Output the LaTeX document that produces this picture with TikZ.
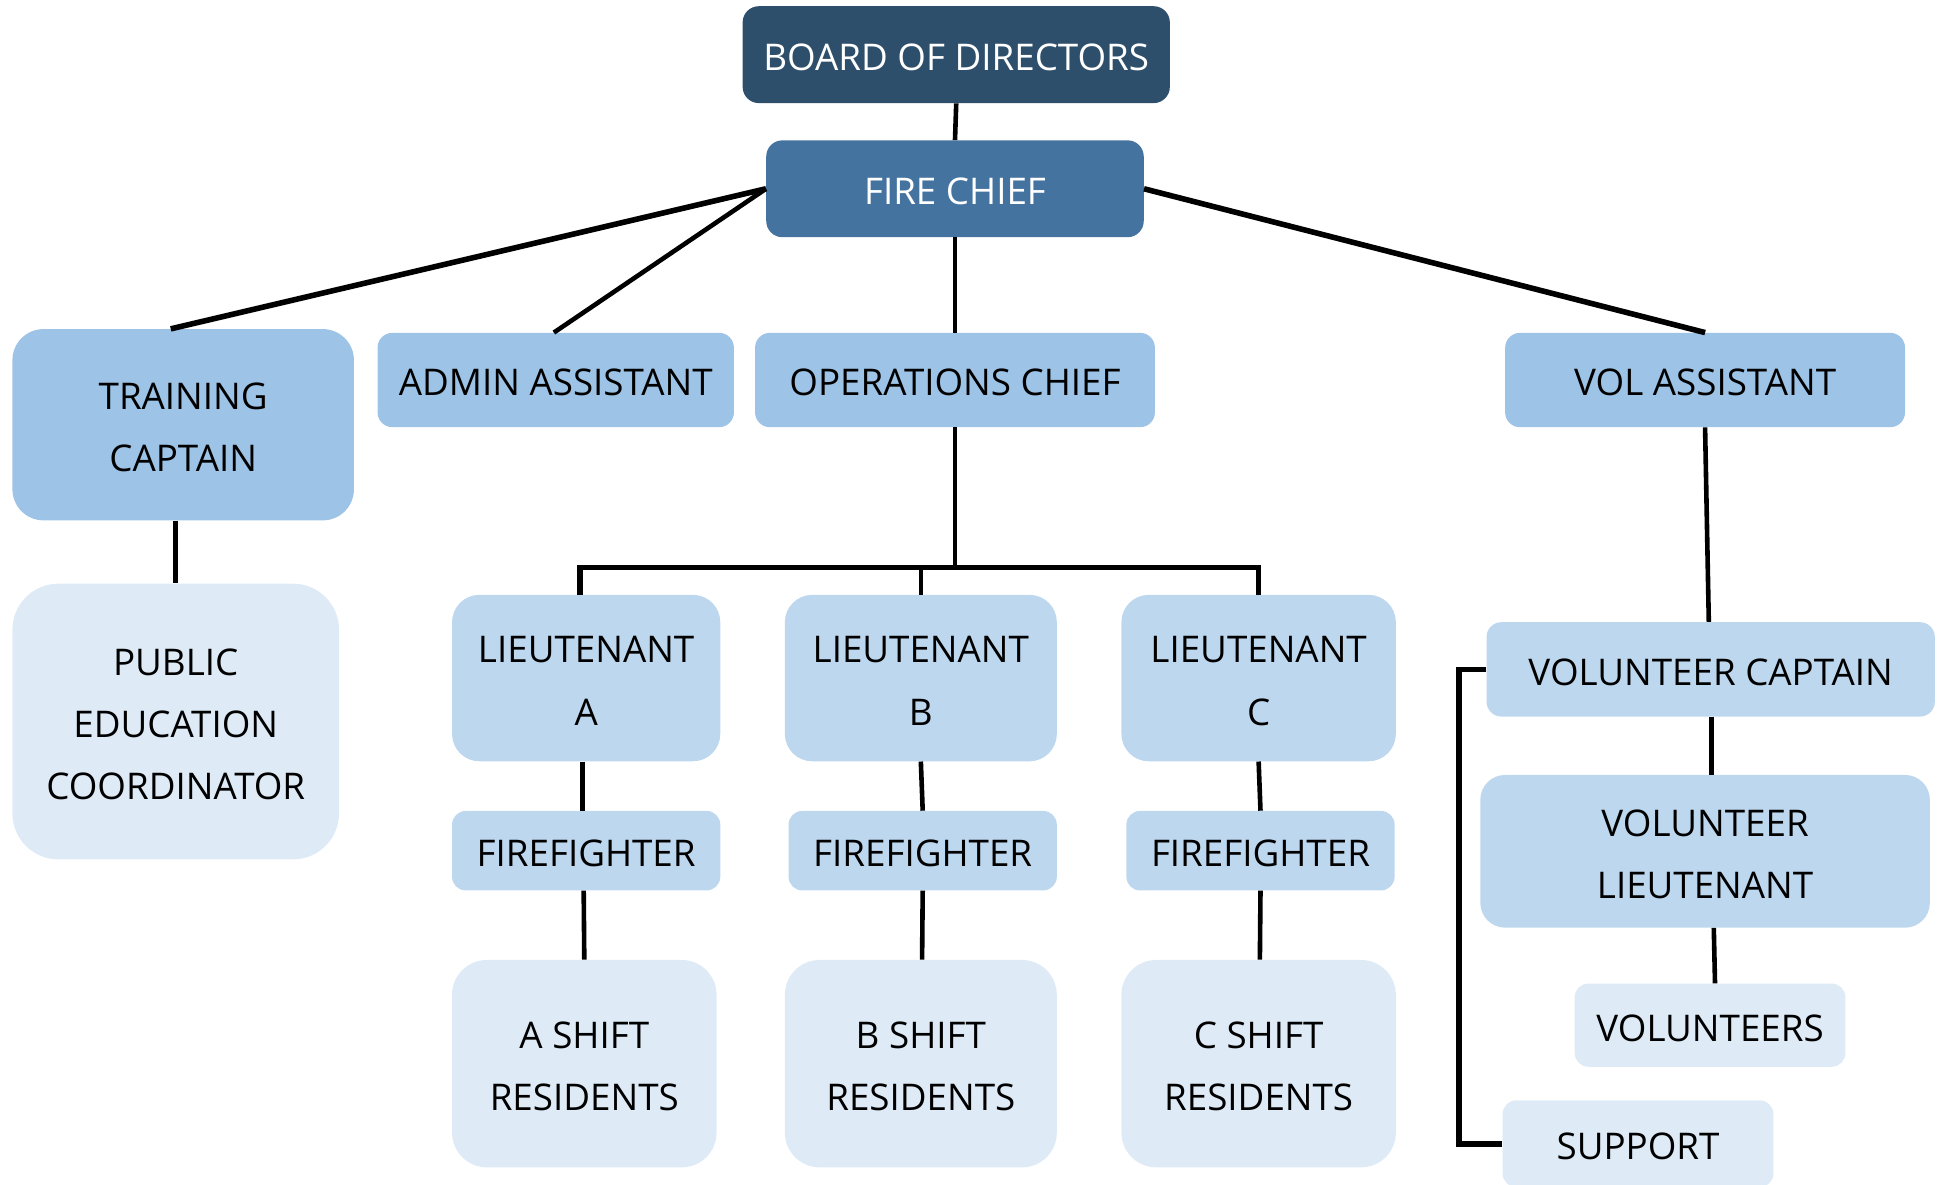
\documentclass[tikz,border=0pt]{standalone}
\usepackage{fontspec}
\setmainfont{Open Sans}
\definecolor{cboard}{HTML}{2E4F6B}
\definecolor{cchief}{HTML}{44739F}
\definecolor{cmid}{HTML}{9DC3E6}
\definecolor{clight}{HTML}{BDD7EE}
\definecolor{cpale}{HTML}{DEEBF7}
\newcommand{\boxtxt}[1]{\raisebox{-2.8pt}[\height][\depth]{\begin{tabular}{@{}c@{}}#1\end{tabular}}}
\tikzset{
  box/.style={draw=none, inner sep=0pt, font=\fontsize{29.6}{50}\selectfont, text=black},
  link/.style={draw=black, line width=3.7pt},
  thicklink/.style={draw=black, line width=4.5pt},
}
\begin{document}
\begin{tikzpicture}[x=1pt,y=-1pt]
\useasboundingbox (0,0) rectangle (1567,954.2);
% top level
\node[box, fill=cboard, text=white, minimum width=344pt, minimum height=78pt, rounded corners=13pt] (board) at (770,44) {\boxtxt{BOARD OF DIRECTORS}};
\node[box, fill=cchief, text=white, minimum width=304pt, minimum height=78pt, rounded corners=13pt] (chief) at (769,152) {\boxtxt{FIRE CHIEF}};
% second level
\node[box, fill=cmid, minimum width=275pt, minimum height=154pt, rounded corners=25pt] (train) at (147.5,342) {\boxtxt{TRAINING\\CAPTAIN}};
\node[box, fill=cmid, minimum width=287pt, minimum height=76pt, rounded corners=12pt] (admin) at (447.5,306) {\boxtxt{ADMIN ASSISTANT}};
\node[box, fill=cmid, minimum width=322pt, minimum height=76pt, rounded corners=12pt] (ops) at (769,306) {\boxtxt{OPERATIONS CHIEF}};
\node[box, fill=cmid, minimum width=322pt, minimum height=76pt, rounded corners=12pt] (vola) at (1373,306) {\boxtxt{VOL ASSISTANT}};
% training branch
\node[box, fill=cpale, minimum width=263pt, minimum height=222pt, rounded corners=37pt] (pub) at (141.5,581) {\boxtxt{PUBLIC\\EDUCATION\\COORDINATOR}};
% lieutenants
\node[box, fill=clight, minimum width=216pt, minimum height=134pt, rounded corners=22pt] (ltA) at (472,546) {\boxtxt{LIEUTENANT\\A}};
\node[box, fill=clight, minimum width=219pt, minimum height=134pt, rounded corners=22pt] (ltB) at (741.5,546) {\boxtxt{LIEUTENANT\\B}};
\node[box, fill=clight, minimum width=221pt, minimum height=134pt, rounded corners=22pt] (ltC) at (1013.5,546) {\boxtxt{LIEUTENANT\\C}};
% firefighters
\node[box, fill=clight, minimum width=216pt, minimum height=64pt, rounded corners=11pt] (ffA) at (472,685) {\boxtxt{FIREFIGHTER}};
\node[box, fill=clight, minimum width=216pt, minimum height=64pt, rounded corners=11pt] (ffB) at (743,685) {\boxtxt{FIREFIGHTER}};
\node[box, fill=clight, minimum width=216pt, minimum height=64pt, rounded corners=11pt] (ffC) at (1015,685) {\boxtxt{FIREFIGHTER}};
% shifts
\node[box, fill=cpale, minimum width=213pt, minimum height=167pt, rounded corners=28pt] (shA) at (470.5,856.5) {\boxtxt{A SHIFT\\RESIDENTS}};
\node[box, fill=cpale, minimum width=219pt, minimum height=167pt, rounded corners=28pt] (shB) at (741.5,856.5) {\boxtxt{B SHIFT\\RESIDENTS}};
\node[box, fill=cpale, minimum width=221pt, minimum height=167pt, rounded corners=28pt] (shC) at (1013.5,856.5) {\boxtxt{C SHIFT\\RESIDENTS}};
% volunteer branch
\node[box, fill=clight, minimum width=361pt, minimum height=76pt, rounded corners=12pt] (vcap) at (1377.5,539) {\boxtxt{VOLUNTEER CAPTAIN}};
\node[box, fill=clight, minimum width=362pt, minimum height=123pt, rounded corners=20pt] (vlt) at (1373,685.5) {\boxtxt{VOLUNTEER\\LIEUTENANT}};
\node[box, fill=cpale, minimum width=218pt, minimum height=67pt, rounded corners=11pt] (vols) at (1377,825.5) {\boxtxt{VOLUNTEERS}};
\node[box, fill=cpale, minimum width=218pt, minimum height=70pt, rounded corners=11pt] (sup) at (1319,921) {\boxtxt{SUPPORT}};
% bus coordinate
\coordinate (busy) at (769,457);
% connectors
\draw[link] (board.south) -- (chief.north);
\draw[thicklink] (chief.west) -- ([xshift=-10pt]train.north);
\draw[link] (chief.west) -- ([xshift=-1.5pt]admin.north);
\draw[link] (chief.south) -- (ops.north);
\draw[thicklink] (chief.east) -- (vola.north);
\draw[link] (pub.north |- train.south) -- (pub.north);
\draw[link] (ops.south) -- (ops.south |- busy);
\draw[thicklink] ([xshift=-5pt]ltA.north) -- ([xshift=-5pt]ltA.north |- busy) -- (ltC.north |- busy) -- (ltC.north);
\draw[link] (ltB.north) -- (ltB.north |- busy);
\draw[link] ([xshift=-3pt]ltA.south) -- ([xshift=-3pt]ffA.north);
\draw[link] ([xshift=-2pt]ffA.south) -- (shA.north);
\draw[link] (ltB.south) -- (ffB.north);
\draw[link] (ffB.south) -- ([xshift=1pt]shB.north);
\draw[link] (ltC.south) -- (ffC.north);
\draw[link] (ffC.south) -- ([xshift=1pt]shC.north);
\draw[link] (vola.south) -- ([xshift=-1.5pt]vcap.north);
\draw[link] ([xshift=0.5pt]vcap.south) -- ([xshift=5pt]vlt.north);
\draw[link] ([xshift=7pt]vlt.south) -- ([xshift=4pt]vols.north);
\draw[thicklink] (vcap.west) -- ++(-22,0) |- (sup.west);
\end{tikzpicture}
\end{document}
